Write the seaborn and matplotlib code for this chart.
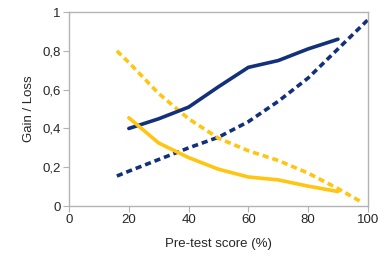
import numpy as np
import pandas as pd
import matplotlib
matplotlib.use("Agg")
import matplotlib.pyplot as plt
import seaborn as sns

# solid lines: measured at pre-test 20..90
x_solid = [20, 30, 40, 50, 60, 70, 80, 90]
gain_solid = [0.40, 0.45, 0.51, 0.615, 0.715, 0.75, 0.81, 0.86]
loss_solid = [0.455, 0.325, 0.25, 0.19, 0.15, 0.135, 0.103, 0.075]

# dashed lines: model curves
x_gain_dash = [16, 20, 30, 40, 50, 60, 70, 80, 90, 100]
gain_dash = [0.155, 0.18, 0.24, 0.30, 0.355, 0.435, 0.54, 0.66, 0.81, 0.96]
x_loss_dash = [16, 20, 30, 40, 50, 60, 70, 80, 90, 98]
loss_dash = [0.80, 0.74, 0.58, 0.45, 0.35, 0.285, 0.235, 0.17, 0.09, 0.02]

blue = "#13307a"
yellow = "#ffc511"

sns.set_style("white")
plt.rcParams["font.family"] = ["Liberation Sans", "DejaVu Sans"]

fig, ax = plt.subplots(figsize=(3.86, 2.68), dpi=100)
fig.subplots_adjust(left=0.179, right=0.953, top=0.955, bottom=0.231)

lw = 2.6
dash = (0, (1.7, 1.1))
sns.lineplot(x=x_gain_dash, y=gain_dash, ax=ax, color=blue, lw=lw, linestyle=dash)
sns.lineplot(x=x_loss_dash, y=loss_dash, ax=ax, color=yellow, lw=lw, linestyle=dash)
sns.lineplot(x=x_solid, y=gain_solid, ax=ax, color=blue, lw=lw)
sns.lineplot(x=x_solid, y=loss_solid, ax=ax, color=yellow, lw=lw)

ax.set_xlim(0, 100)
ax.set_ylim(0, 1)
ax.set_xticks([0, 20, 40, 60, 80, 100])
ax.set_yticks([0, 0.2, 0.4, 0.6, 0.8, 1])
ax.set_yticklabels(["0", "0,2", "0,4", "0,6", "0,8", "1"])
ax.set_xlabel("Pre-test score (%)", fontsize=9.5, labelpad=8)
ax.set_ylabel("Gain / Loss", fontsize=9.5, labelpad=5)
ax.tick_params(axis="both", labelsize=9.5, length=4, width=0.8, color="#b3b3b3",
               direction="out", bottom=True, left=True, pad=2)
for sp in ax.spines.values():
    sp.set_color("#b3b3b3")
    sp.set_linewidth(1)

fig.savefig("out.png", dpi=100)
